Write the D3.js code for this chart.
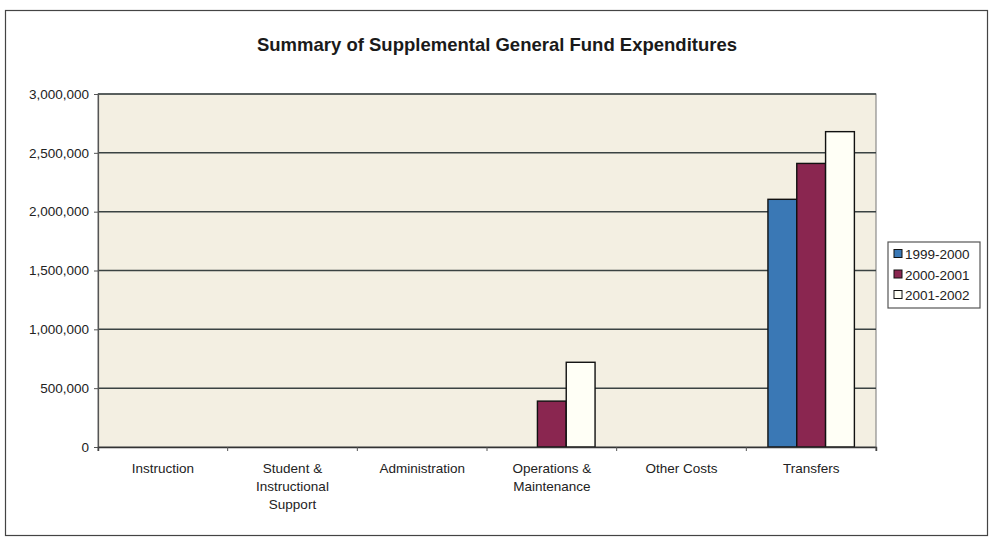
<!DOCTYPE html>
<html>
<head>
<meta charset="utf-8">
<script src="https://cdn.jsdelivr.net/npm/d3@7"></script>
<style>
  html, body { margin: 0; padding: 0; background: #fff; }
  svg { display: block; font-family: "Liberation Sans", Arial, sans-serif; }
</style>
</head>
<body>
<svg id="chart" width="991" height="537"></svg>
<script>
// Expenditure categories (multi-line labels split on "\n")
const categories = [
  "Instruction",
  "Student &\nInstructional\nSupport",
  "Administration",
  "Operations &\nMaintenance",
  "Other Costs",
  "Transfers"
];
const seriesNames = ["1999-2000", "2000-2001", "2001-2002"];
const values1999 = [0, 0, 0, 0, 0, 2105000];
const values2000 = [0, 0, 0, 390000, 0, 2410000];
const values2001 = [0, 0, 0, 720000, 0, 2680000];
const yTicks = [0, 500000, 1000000, 1500000, 2000000, 2500000, 3000000];
const seriesColors = ["#3a78b5", "#8a2650", "#fffff6"];

const seriesValues = [values1999, values2000, values2001];
const rows = categories.map((c, i) => ({
  category: c,
  values: seriesNames.map((s, j) => ({ series: s, value: seriesValues[j][i] }))
}));

const svg = d3.select("#chart");
const plot = { left: 98, right: 876, top: 94, bottom: 447 };

// Outer chart frame
svg.append("rect")
  .attr("x", 5.5).attr("y", 10.5).attr("width", 982).attr("height", 525)
  .attr("fill", "#fff").attr("stroke", "#444").attr("stroke-width", 1.2);

svg.append("text")
  .attr("x", 497).attr("y", 51)
  .attr("text-anchor", "middle")
  .attr("font-size", 18.5).attr("font-weight", "bold").attr("fill", "#1a1a1a")
  .text("Summary of Supplemental General Fund Expenditures");

const x0 = d3.scaleBand().domain(categories).range([plot.left, plot.right]).paddingInner(0).paddingOuter(0);
// Bars take 3 of 4.5 slots per category (gap ratio 150%)
const inner = 3 / 4.5;
const x1 = d3.scaleBand().domain(seriesNames)
  .range([0, x0.bandwidth() * inner]).padding(0);
const y = d3.scaleLinear().domain([0, 3000000]).range([plot.bottom, plot.top]);

// Plot area background
svg.append("rect")
  .attr("x", plot.left).attr("y", plot.top)
  .attr("width", plot.right - plot.left).attr("height", plot.bottom - plot.top)
  .attr("fill", "#f3efe2").attr("stroke", "#777").attr("stroke-width", 1);

// Gridlines
svg.append("g")
  .selectAll("line").data(yTicks.filter(d => d > 0)).join("line")
  .attr("x1", plot.left).attr("x2", plot.right)
  .attr("y1", d => y(d)).attr("y2", d => y(d))
  .attr("stroke", "#3a4242").attr("stroke-width", 1.5);

// Y axis
const yAxis = d3.axisLeft(y).tickValues(yTicks).tickSize(4).tickPadding(5)
  .tickFormat(d3.format(","));
const gy = svg.append("g").attr("transform", `translate(${plot.left},0)`).call(yAxis);
gy.select(".domain").attr("stroke", "#555").attr("stroke-width", 1.2);
gy.selectAll(".tick line").attr("stroke", "#555");
gy.selectAll("text").attr("font-size", 13.5).attr("fill", "#222")
  .attr("font-family", "'Liberation Sans', Arial, sans-serif");

// Bars
const groups = svg.append("g").selectAll("g").data(rows).join("g")
  .attr("transform", d => `translate(${x0(d.category) + x0.bandwidth() * (1 - inner) / 2},0)`);
groups.selectAll("rect").data(d => d.values.filter(v => v.value > 0)).join("rect")
  .attr("x", d => x1(d.series))
  .attr("y", d => y(d.value))
  .attr("width", x1.bandwidth())
  .attr("height", d => y(0) - y(d.value))
  .attr("fill", d => seriesColors[seriesNames.indexOf(d.series)])
  .attr("stroke", "#111").attr("stroke-width", 1.4);

// X axis
const xAxis = d3.axisBottom(x0).tickSize(4).tickFormat("");
const gx = svg.append("g").attr("transform", `translate(0,${plot.bottom})`).call(xAxis);
gx.select(".domain").attr("stroke", "#333").attr("stroke-width", 1.4);
gx.selectAll(".tick line")
  .attr("transform", `translate(${x0.bandwidth() / 2},0)`)
  .attr("stroke", "#555");
svg.append("line")
  .attr("x1", plot.left).attr("x2", plot.left)
  .attr("y1", plot.bottom).attr("y2", plot.bottom + 4).attr("stroke", "#555");

// Category labels
const labels = svg.append("g").selectAll("text").data(categories).join("text")
  .attr("x", d => x0(d) + x0.bandwidth() / 2)
  .attr("y", 473)
  .attr("text-anchor", "middle")
  .attr("font-size", 13.5).attr("fill", "#222");
labels.selectAll("tspan").data(d => d.split("\n")).join("tspan")
  .attr("x", function() { return d3.select(this.parentNode).attr("x"); })
  .attr("dy", (d, i) => i === 0 ? 0 : 18)
  .text(d => d);

// Legend
const legend = svg.append("g").attr("transform", "translate(888,242)");
legend.append("rect")
  .attr("width", 92).attr("height", 66)
  .attr("fill", "#fff").attr("stroke", "#555").attr("stroke-width", 1.2);
const items = legend.selectAll("g").data(seriesNames).join("g")
  .attr("transform", (d, i) => `translate(6,${12 + i * 20.5})`);
items.append("rect")
  .attr("x", 0).attr("y", -4.5).attr("width", 8).attr("height", 8)
  .attr("fill", (d, i) => seriesColors[i]).attr("stroke", "#111").attr("stroke-width", 1);
items.append("text")
  .attr("x", 11).attr("y", 5)
  .attr("font-size", 13.5).attr("fill", "#222")
  .text(d => d);
</script>
</body>
</html>
